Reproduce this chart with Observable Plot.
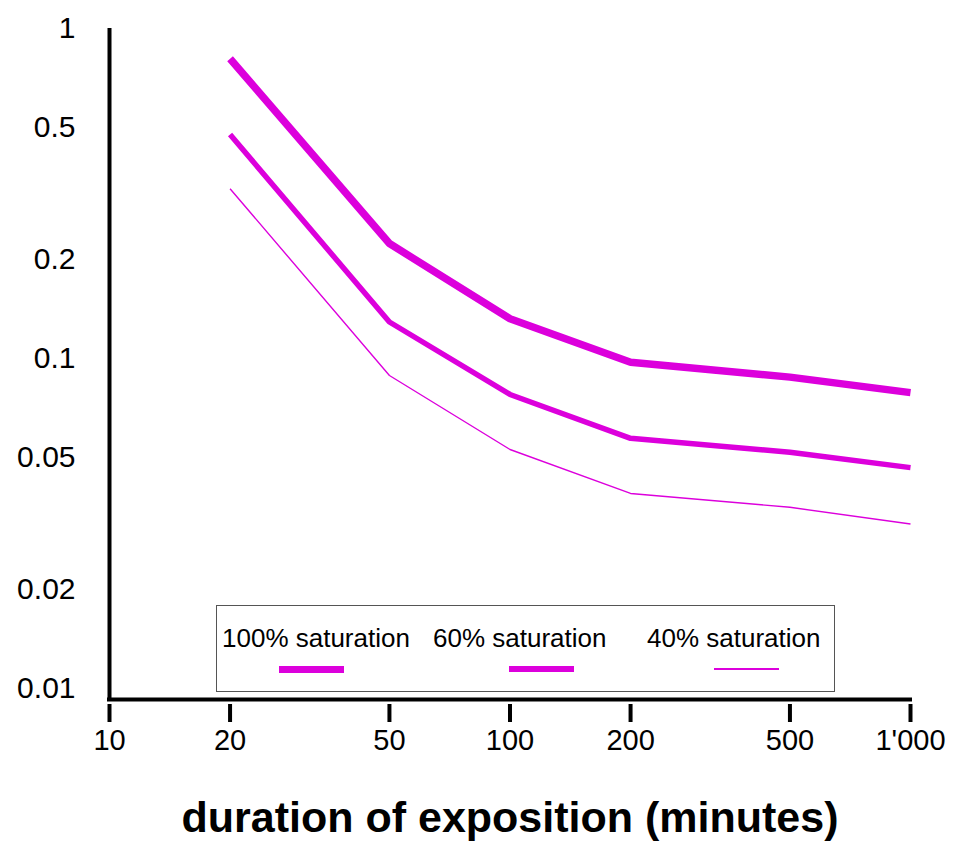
<!DOCTYPE html>
<html>
<head>
<meta charset="utf-8">
<script src="https://cdn.jsdelivr.net/npm/d3@7"></script>
<script src="https://cdn.jsdelivr.net/npm/@observablehq/plot@0.6"></script>
<style>
  body { margin: 0; background: #fff; font-family: "Liberation Sans", Arial, sans-serif; }
  #wrap { position: relative; width: 954px; height: 844px; }
  #legend { position: absolute; left: 216px; top: 605px; width: 619px; height: 87px;
            border: 1.5px solid #555; box-sizing: border-box; background: #fff; }
  .lt { position: absolute; font-size: 26px; color: #000; white-space: nowrap; top: 19px; line-height: 26px; }
  .ll { position: absolute; background: #dc00dc; }
</style>
</head>
<body>
<div id="wrap"></div>
<script>
const durations = [20, 50, 100, 200, 500, 1000];
const sat100 = [0.81, 0.223, 0.132, 0.0974, 0.0878, 0.0788];
const sat60  = [0.477, 0.129, 0.0778, 0.0573, 0.052, 0.0467];
const sat40  = [0.327, 0.0888, 0.053, 0.039, 0.0354, 0.0315];
const xTicks = [10, 20, 50, 100, 200, 500, 1000];
const xTickLabels = ["10", "20", "50", "100", "200", "500", "1'000"];
const yTicks = [0.01, 0.02, 0.05, 0.1, 0.2, 0.5, 1];
const yTickLabels = ["0.01", "0.02", "0.05", "0.1", "0.2", "0.5", "1"];
const seriesNames = ["100% saturation", "60% saturation", "40% saturation"];
const xTitle = "duration of exposition (minutes)";

const color = "#dc00dc";
const yMin = 0.00926;
const toRows = (vals) => durations.map((d, i) => ({x: d, y: vals[i]}));

const chart = Plot.plot({
  width: 954,
  height: 844,
  marginLeft: 109,
  marginRight: 44,
  marginTop: 28,
  marginBottom: 145,
  style: {fontFamily: "'Liberation Sans', Arial, sans-serif", background: "#fff", color: "#000"},
  x: {type: "log", domain: [10, 1000]},
  y: {type: "log", domain: [yMin, 1]},
  marks: [
    Plot.line(toRows(sat40), {x: "x", y: "y", stroke: color, strokeWidth: 1.4, strokeLinecap: "butt", strokeLinejoin: "miter"}),
    Plot.line(toRows(sat60), {x: "x", y: "y", stroke: color, strokeWidth: 5.5, strokeLinecap: "butt", strokeLinejoin: "miter"}),
    Plot.line(toRows(sat100), {x: "x", y: "y", stroke: color, strokeWidth: 7.5, strokeLinecap: "butt", strokeLinejoin: "miter"}),
    Plot.axisY({ticks: yTicks, tickFormat: (d) => yTickLabels[yTicks.indexOf(d)], tickSize: 0, tickPadding: 34, fontSize: 30, label: null}),
    Plot.axisX({ticks: xTicks, tickFormat: (d) => xTickLabels[xTicks.indexOf(d)], tickSize: 18, strokeWidth: 4, dy: 5, tickPadding: 7, fontSize: 29, label: null}),
    Plot.ruleX([10], {strokeWidth: 4, stroke: "#000"}),
    Plot.ruleY([yMin], {strokeWidth: 4, stroke: "#000", strokeLinecap: "square"}),
    Plot.text([xTitle], {frameAnchor: "bottom", dy: 132, fontSize: 43, fontWeight: "bold", fill: "#000"})
  ]
});

const wrap = document.getElementById("wrap");
wrap.appendChild(chart);

const legend = document.createElement("div");
legend.id = "legend";
const textLeft = [5, 216, 430];
const lineLeft = [62, 292, 497];
const lineW = [7, 5.5, 1.5];
seriesNames.forEach((name, i) => {
  const t = document.createElement("div");
  t.className = "lt";
  t.style.left = textLeft[i] + "px";
  t.textContent = name;
  legend.appendChild(t);
  const l = document.createElement("div");
  l.className = "ll";
  l.style.left = lineLeft[i] + "px";
  l.style.width = "65px";
  l.style.height = lineW[i] + "px";
  l.style.top = (63 - lineW[i] / 2) + "px";
  legend.appendChild(l);
});
wrap.appendChild(legend);
</script>
</body>
</html>
